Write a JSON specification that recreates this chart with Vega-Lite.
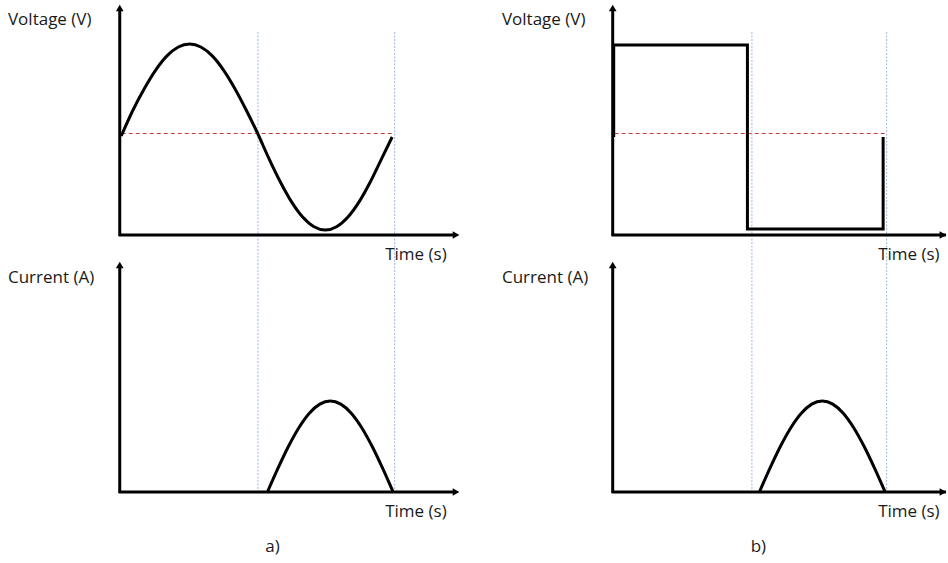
{
  "$schema": "https://vega.github.io/schema/vega-lite/v6.json",
  "width": 948,
  "height": 563,
  "autosize": {"type": "fit", "contains": "padding"},
  "padding": 0,
  "background": "white",
  "config": {"view": {"stroke": null}},
  "datasets": {
    "axes": [
      {"x": 120, "y": 9, "x2": 120, "y2": 236},
      {"x": 119, "y": 235, "x2": 455, "y2": 235},
      {"x": 120, "y": 266, "x2": 120, "y2": 493},
      {"x": 119, "y": 492, "x2": 455, "y2": 492},
      {"x": 614, "y": 9, "x2": 614, "y2": 236},
      {"x": 613, "y": 235, "x2": 948, "y2": 235},
      {"x": 614, "y": 266, "x2": 614, "y2": 493},
      {"x": 613, "y": 492, "x2": 948, "y2": 492}
    ],
    "red": [
      {"x": 122, "y": 133.5, "x2": 395, "y2": 133.5},
      {"x": 616, "y": 133.5, "x2": 889, "y2": 133.5}
    ],
    "blue": [
      {"x": 258.5, "y": 32, "x2": 258.5, "y2": 492},
      {"x": 395.5, "y": 32, "x2": 395.5, "y2": 492},
      {"x": 753.5, "y": 32, "x2": 753.5, "y2": 492},
      {"x": 888.5, "y": 32, "x2": 888.5, "y2": 492}
    ],
    "up": [
      {"x": 120, "y": 8},
      {"x": 120, "y": 265},
      {"x": 614, "y": 8},
      {"x": 614, "y": 265}
    ],
    "right": [
      {"x": 457, "y": 235},
      {"x": 457, "y": 492},
      {"x": 945, "y": 235},
      {"x": 945, "y": 492}
    ],
    "labels": [
      {"x": 8, "y": 20, "t": "Voltage (V)", "a": "left"},
      {"x": 8, "y": 278, "t": "Current (A)", "a": "left"},
      {"x": 386, "y": 255, "t": "Time (s)", "a": "left"},
      {"x": 386, "y": 512, "t": "Time (s)", "a": "left"},
      {"x": 273, "y": 547, "t": "a)", "a": "center"},
      {"x": 503, "y": 20, "t": "Voltage (V)", "a": "left"},
      {"x": 503, "y": 278, "t": "Current (A)", "a": "left"},
      {"x": 880, "y": 255, "t": "Time (s)", "a": "left"},
      {"x": 880, "y": 512, "t": "Time (s)", "a": "left"},
      {"x": 760, "y": 547, "t": "b)", "a": "center"}
    ],
    "curves": [
      {"s": "va", "o": 1, "x": 121.5, "y": 136},
      {"s": "va", "o": 2, "x": 133.3, "y": 110},
      {"s": "va", "o": 3, "x": 144.7, "y": 88.5},
      {"s": "va", "o": 4, "x": 156, "y": 70.1},
      {"s": "va", "o": 5, "x": 167.3, "y": 55.9},
      {"s": "va", "o": 6, "x": 178.7, "y": 47},
      {"s": "va", "o": 7, "x": 190, "y": 44},
      {"s": "va", "o": 8, "x": 201.3, "y": 47},
      {"s": "va", "o": 9, "x": 212.7, "y": 55.9},
      {"s": "va", "o": 10, "x": 224, "y": 70.1},
      {"s": "va", "o": 11, "x": 235.3, "y": 88.5},
      {"s": "va", "o": 12, "x": 246.7, "y": 110},
      {"s": "va", "o": 13, "x": 258, "y": 133},
      {"s": "va", "o": 14, "x": 269.3, "y": 158.1},
      {"s": "va", "o": 15, "x": 280.7, "y": 181.5},
      {"s": "va", "o": 16, "x": 292, "y": 201.6},
      {"s": "va", "o": 17, "x": 303.3, "y": 217},
      {"s": "va", "o": 18, "x": 314.7, "y": 226.7},
      {"s": "va", "o": 19, "x": 326, "y": 230},
      {"s": "va", "o": 20, "x": 337.3, "y": 226.7},
      {"s": "va", "o": 21, "x": 348.7, "y": 217},
      {"s": "va", "o": 22, "x": 360, "y": 201.6},
      {"s": "va", "o": 23, "x": 371.3, "y": 181.5},
      {"s": "va", "o": 24, "x": 382.7, "y": 158.1},
      {"s": "va", "o": 25, "x": 393, "y": 137},
      {"s": "ia", "o": 0, "x": 268, "y": 492},
      {"s": "ia", "o": 1, "x": 278.5, "y": 468.4},
      {"s": "ia", "o": 2, "x": 289, "y": 446.5},
      {"s": "ia", "o": 3, "x": 299.5, "y": 427.7},
      {"s": "ia", "o": 4, "x": 310, "y": 413.2},
      {"s": "ia", "o": 5, "x": 320.5, "y": 404.1},
      {"s": "ia", "o": 6, "x": 331, "y": 401},
      {"s": "ia", "o": 7, "x": 341.5, "y": 404.1},
      {"s": "ia", "o": 8, "x": 352, "y": 413.2},
      {"s": "ia", "o": 9, "x": 362.5, "y": 427.7},
      {"s": "ia", "o": 10, "x": 373, "y": 446.5},
      {"s": "ia", "o": 11, "x": 383.5, "y": 468.4},
      {"s": "ia", "o": 12, "x": 394, "y": 492},
      {"s": "ib", "o": 0, "x": 761, "y": 492},
      {"s": "ib", "o": 1, "x": 771.5, "y": 468.4},
      {"s": "ib", "o": 2, "x": 782, "y": 446.5},
      {"s": "ib", "o": 3, "x": 792.5, "y": 427.7},
      {"s": "ib", "o": 4, "x": 803, "y": 413.2},
      {"s": "ib", "o": 5, "x": 813.5, "y": 404.1},
      {"s": "ib", "o": 6, "x": 824, "y": 401},
      {"s": "ib", "o": 7, "x": 834.5, "y": 404.1},
      {"s": "ib", "o": 8, "x": 845, "y": 413.2},
      {"s": "ib", "o": 9, "x": 855.5, "y": 427.7},
      {"s": "ib", "o": 10, "x": 866, "y": 446.5},
      {"s": "ib", "o": 11, "x": 876.5, "y": 468.4},
      {"s": "ib", "o": 12, "x": 887, "y": 492}
    ],
    "square": [
      {"o": 0, "x": 615, "y": 137},
      {"o": 1, "x": 615, "y": 45},
      {"o": 2, "x": 749, "y": 45},
      {"o": 3, "x": 749, "y": 229},
      {"o": 4, "x": 885, "y": 229},
      {"o": 5, "x": 885, "y": 137}
    ]
  },
  "layer": [
    {
      "data": {"name": "blue"},
      "mark": {"type": "rule", "color": "#9fb6e0", "strokeWidth": 1, "strokeDash": [2, 1.5]},
      "encoding": {
        "x": {"field": "x", "type": "quantitative", "scale": {"domain": [0, 948], "nice": false, "zero": false}, "axis": null},
        "y": {"field": "y", "type": "quantitative", "scale": {"domain": [0, 563], "nice": false, "zero": false, "reverse": true}, "axis": null},
        "x2": {"field": "x2"},
        "y2": {"field": "y2"}
      }
    },
    {
      "data": {"name": "red"},
      "mark": {"type": "rule", "color": "#c8403c", "strokeWidth": 1, "strokeDash": [4, 3]},
      "encoding": {
        "x": {"field": "x", "type": "quantitative"},
        "y": {"field": "y", "type": "quantitative"},
        "x2": {"field": "x2"},
        "y2": {"field": "y2"}
      }
    },
    {
      "data": {"name": "axes"},
      "mark": {"type": "rule", "color": "black", "strokeWidth": 3, "strokeCap": "butt"},
      "encoding": {
        "x": {"field": "x", "type": "quantitative"},
        "y": {"field": "y", "type": "quantitative"},
        "x2": {"field": "x2"},
        "y2": {"field": "y2"}
      }
    },
    {
      "data": {"name": "up"},
      "mark": {"type": "point", "shape": "triangle-up", "filled": true, "color": "black", "size": 60, "opacity": 1},
      "encoding": {
        "x": {"field": "x", "type": "quantitative"},
        "y": {"field": "y", "type": "quantitative"}
      }
    },
    {
      "data": {"name": "right"},
      "mark": {"type": "point", "shape": "triangle-right", "filled": true, "color": "black", "size": 60, "opacity": 1},
      "encoding": {
        "x": {"field": "x", "type": "quantitative"},
        "y": {"field": "y", "type": "quantitative"}
      }
    },
    {
      "data": {"name": "curves"},
      "mark": {"type": "line", "color": "black", "strokeWidth": 3, "interpolate": "monotone", "strokeCap": "butt"},
      "encoding": {
        "x": {"field": "x", "type": "quantitative"},
        "y": {"field": "y", "type": "quantitative"},
        "detail": {"field": "s"},
        "order": {"field": "o", "type": "quantitative"}
      }
    },
    {
      "data": {"name": "square"},
      "mark": {"type": "line", "color": "black", "strokeWidth": 3, "strokeJoin": "miter", "strokeCap": "butt"},
      "encoding": {
        "x": {"field": "x", "type": "quantitative"},
        "y": {"field": "y", "type": "quantitative"},
        "order": {"field": "o", "type": "quantitative"}
      }
    },
    {
      "data": {"name": "labels"},
      "transform": [{"filter": "datum.a === 'left'"}],
      "mark": {"type": "text", "align": "left", "baseline": "middle", "font": "Open Sans", "fontSize": 17, "color": "#1a1a1a"},
      "encoding": {
        "x": {"field": "x", "type": "quantitative"},
        "y": {"field": "y", "type": "quantitative"},
        "text": {"field": "t"}
      }
    },
    {
      "data": {"name": "labels"},
      "transform": [{"filter": "datum.a === 'center'"}],
      "mark": {"type": "text", "align": "center", "baseline": "middle", "font": "Open Sans", "fontSize": 17, "color": "#1a1a1a"},
      "encoding": {
        "x": {"field": "x", "type": "quantitative"},
        "y": {"field": "y", "type": "quantitative"},
        "text": {"field": "t"}
      }
    }
  ]
}
